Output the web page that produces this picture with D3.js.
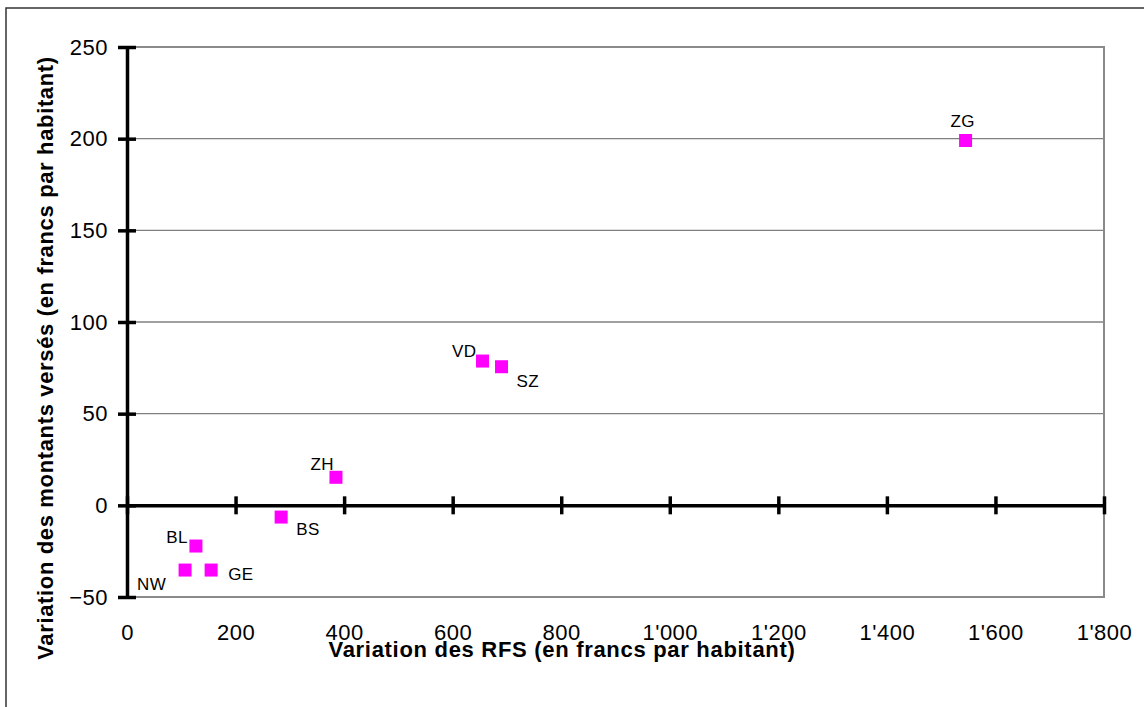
<!DOCTYPE html>
<html>
<head>
<meta charset="utf-8">
<script src="https://cdn.jsdelivr.net/npm/d3@7"></script>
<style>
  html, body { margin: 0; padding: 0; background: #fff; }
  svg { display: block; font-family: "Liberation Sans", Arial, sans-serif; }
</style>
</head>
<body>
<svg id="chart" width="1144" height="707"></svg>
<script>
// ---- data ----
const cantons  = ["ZG", "VD", "SZ", "ZH", "BS", "BL", "NW", "GE"];
const rfsVariation = [1545, 655, 690, 385, 284, 127, 107, 155];
const montantsVariation = [199, 78.7, 75.6, 15.3, -6.4, -22.2, -35.3, -35.3];
const xTickValues = [0, 200, 400, 600, 800, 1000, 1200, 1400, 1600, 1800];
const yTickValues = [-50, 0, 50, 100, 150, 200, 250];
const xTitle = "Variation des RFS (en francs par habitant)";
const yTitle = "Variation des montants versés (en francs par habitant)";

// ---- layout ----
const svg = d3.select("#chart");
const plotLeft = 127, plotRight = 1104, plotTop = 47, plotBottom = 597;

const x = d3.scaleLinear().domain([0, 1800]).range([plotLeft, plotRight]);
const y = d3.scaleLinear().domain([-50, 250]).range([plotBottom, plotTop]);

const locale = d3.formatLocale({decimal: ".", thousands: "'", grouping: [3], currency: ["", ""]});
const fmt = locale.format(",");

// outer frame (right and bottom sides fall outside the picture)
svg.append("rect")
  .attr("x", 6).attr("y", 8).attr("width", 1150).attr("height", 710)
  .attr("fill", "none").attr("stroke", "#333").attr("stroke-width", 1.5);

// gridlines
svg.append("g").selectAll("line")
  .data(yTickValues.filter(v => v !== 0 && v !== -50))
  .join("line")
  .attr("x1", plotLeft).attr("x2", plotRight)
  .attr("y1", d => y(d)).attr("y2", d => y(d))
  .attr("stroke", "#808080").attr("stroke-width", 1.3);

// plot border
svg.append("rect")
  .attr("x", plotLeft).attr("y", plotTop).attr("width", plotRight - plotLeft).attr("height", plotBottom - plotTop)
  .attr("fill", "none").attr("stroke", "#8a8a8a").attr("stroke-width", 2);

// x axis (line at y = 0, crossing ticks)
const xAxisLine = svg.append("g")
  .attr("transform", `translate(0,${y(0)})`)
  .call(d3.axisBottom(x).tickValues(xTickValues).tickSize(9).tickSizeOuter(0).tickFormat(""));
xAxisLine.select(".domain").attr("stroke", "#000").attr("stroke-width", 3.5);
xAxisLine.selectAll(".tick line").attr("y1", -9).attr("y2", 9).attr("stroke", "#000").attr("stroke-width", 3.5);

// x labels along the bottom
const xAxisLabels = svg.append("g")
  .attr("transform", `translate(0,${plotBottom})`)
  .call(d3.axisBottom(x).tickValues(xTickValues).tickSize(0).tickPadding(27).tickFormat(fmt));
xAxisLabels.select(".domain").remove();
xAxisLabels.selectAll("text")
  .attr("font-family", "'Liberation Sans', Arial, sans-serif")
  .attr("font-size", 22).attr("letter-spacing", 0.5).attr("fill", "#000");

// y axis
const yAxis = svg.append("g")
  .attr("transform", `translate(${plotLeft},0)`)
  .call(d3.axisLeft(y).tickValues(yTickValues).tickSize(9).tickSizeOuter(0).tickPadding(10).tickFormat(fmt));
yAxis.select(".domain").attr("stroke", "#000").attr("stroke-width", 3.5);
yAxis.selectAll(".tick line").attr("x1", -9).attr("x2", 9).attr("stroke", "#000").attr("stroke-width", 3.5);
yAxis.selectAll("text")
  .attr("font-family", "'Liberation Sans', Arial, sans-serif")
  .attr("font-size", 22).attr("letter-spacing", 0.5).attr("fill", "#000");

// titles
svg.append("text")
  .attr("x", 562).attr("y", 657)
  .attr("text-anchor", "middle")
  .attr("font-size", 22).attr("font-weight", "bold").attr("letter-spacing", 0.7)
  .text(xTitle);

svg.append("text")
  .attr("transform", "translate(53,358) rotate(-90)")
  .attr("text-anchor", "middle")
  .attr("font-size", 22).attr("font-weight", "bold").attr("letter-spacing", 0.65)
  .text(yTitle);

// points
const pts = cantons.map((c, i) => ({c, xv: rfsVariation[i], yv: montantsVariation[i]}));
const sq = 13;
svg.append("g").selectAll("rect")
  .data(pts)
  .join("rect")
  .attr("x", d => x(d.xv) - sq / 2)
  .attr("y", d => y(d.yv) - sq / 2)
  .attr("width", sq).attr("height", sq)
  .attr("fill", "#ff00ff");

// label placement (styling)
const placement = {
  ZG: {dx: -3, dy: -14, anchor: "middle"},
  VD: {dx: -6, dy: -4, anchor: "end"},
  SZ: {dx: 15, dy: 20, anchor: "start"},
  ZH: {dx: -2, dy: -7, anchor: "end"},
  BS: {dx: 15, dy: 18, anchor: "start"},
  BL: {dx: -8, dy: -3, anchor: "end"},
  NW: {dx: -48, dy: 20, anchor: "start"},
  GE: {dx: 17, dy: 10, anchor: "start"}
};
svg.append("g").selectAll("text")
  .data(pts)
  .join("text")
  .attr("x", d => x(d.xv) + placement[d.c].dx)
  .attr("y", d => y(d.yv) + placement[d.c].dy)
  .attr("text-anchor", d => placement[d.c].anchor)
  .attr("font-size", 17).attr("letter-spacing", 0.4).attr("fill", "#000")
  .text(d => d.c);
</script>
</body>
</html>
